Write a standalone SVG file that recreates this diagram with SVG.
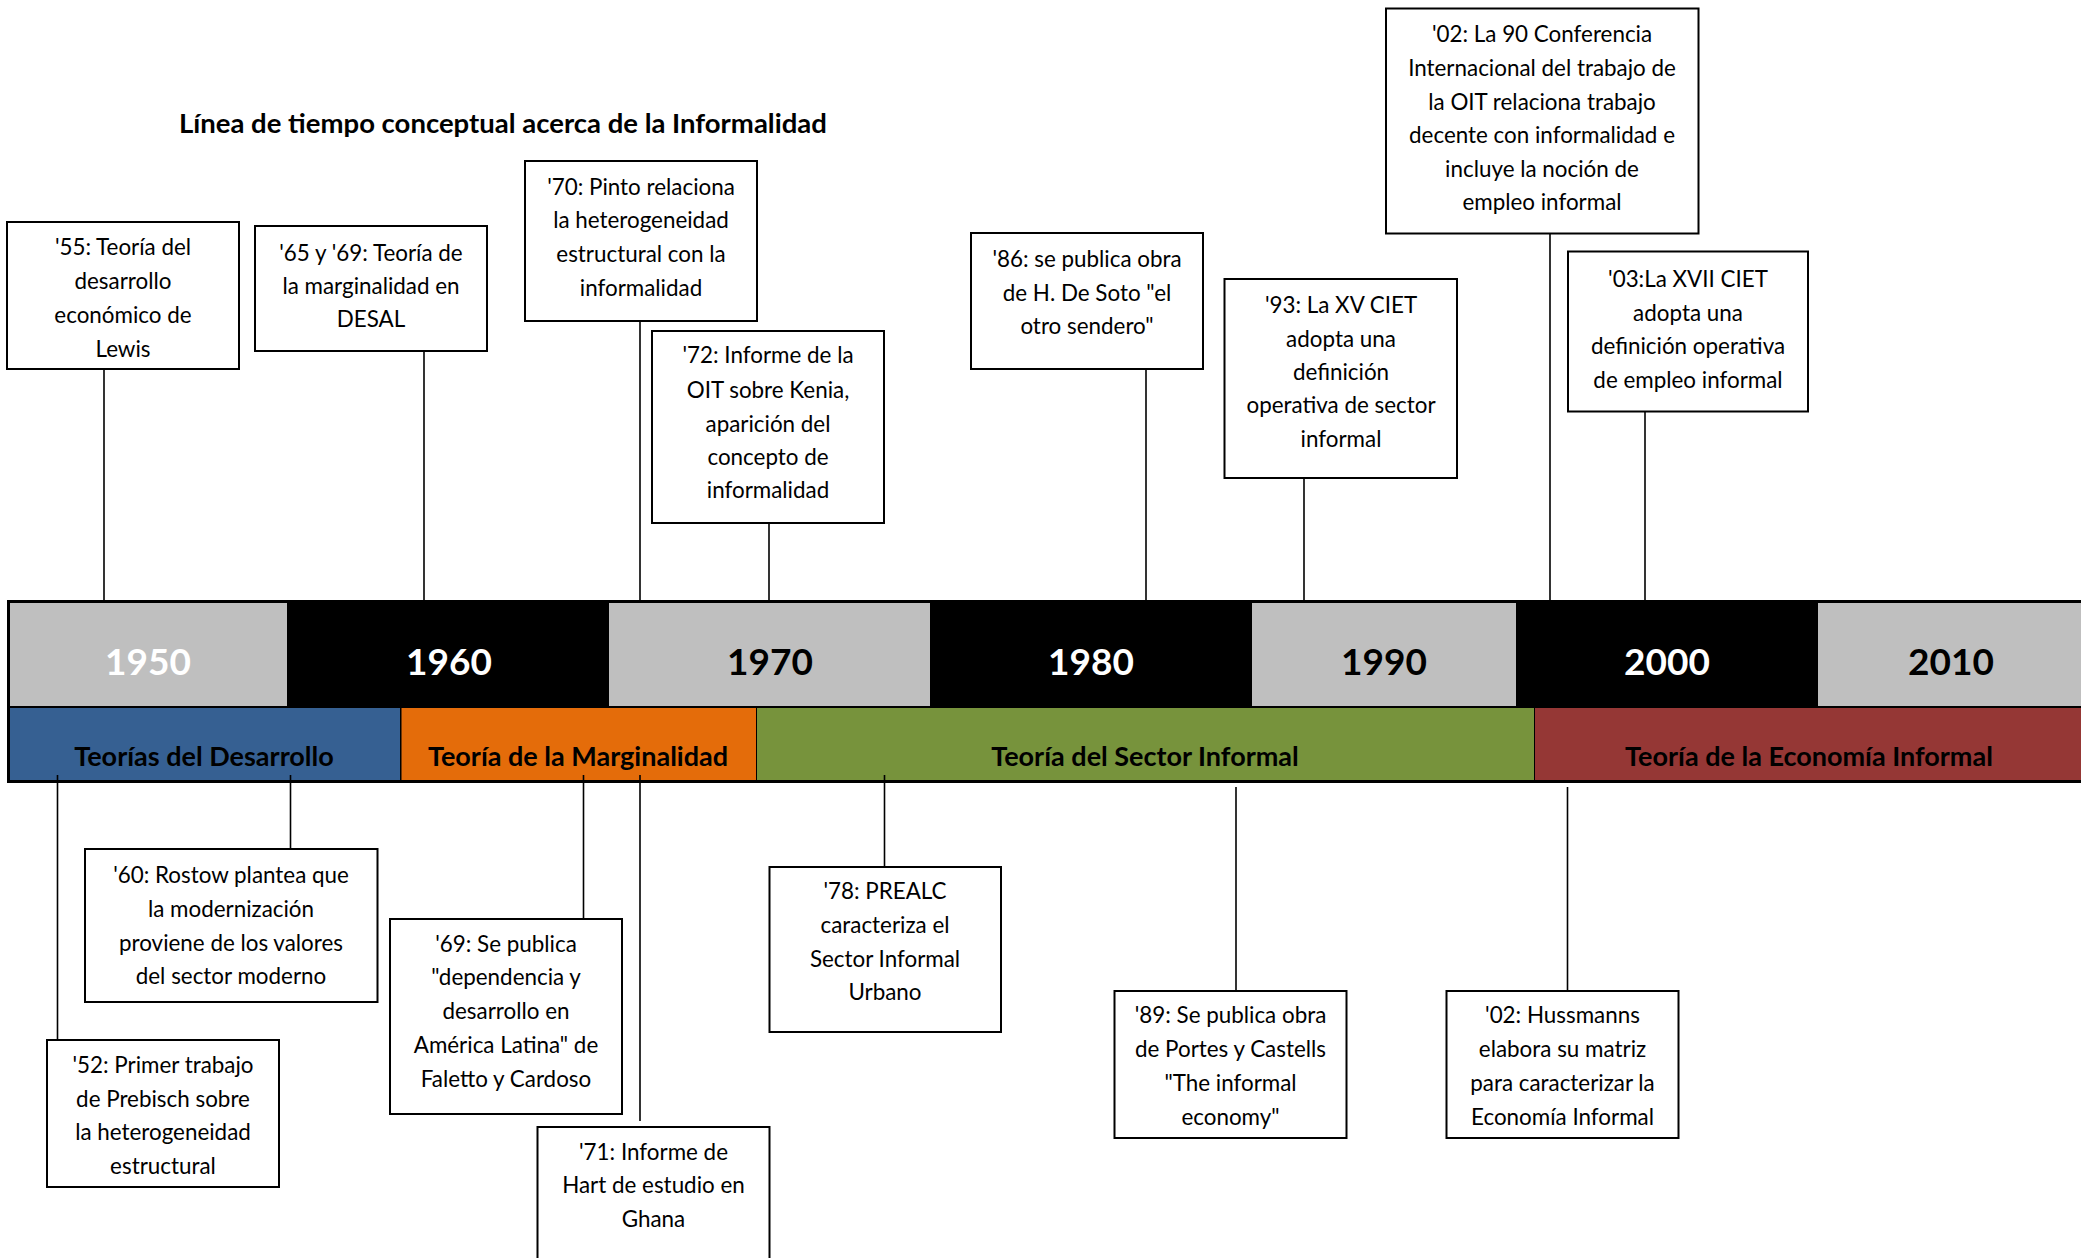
<svg xmlns="http://www.w3.org/2000/svg" width="2081" height="1258" viewBox="0 0 2081 1258">
<style>
text{font-family:Lato,"Liberation Sans",sans-serif;fill:#000}
.t{font-size:22.4px;text-anchor:middle}
.box{fill:#fff;stroke:#000;stroke-width:2}
.yr{font-size:37px;font-weight:bold;text-anchor:middle}
.th{font-size:27px;font-weight:bold;text-anchor:middle}
.w{fill:#fff}
.ln{stroke:#000;stroke-width:1.6;fill:none}
</style>
<rect width="2081" height="1258" fill="#fff"/>
<text id="title" x="179" y="133" style="font-size:27.5px;font-weight:bold">Línea de tiempo conceptual acerca de la Informalidad</text>

<g id="timeline">
<rect x="7" y="600" width="2080" height="183" fill="#000"/>
<rect x="10" y="603" width="277" height="103" fill="#BFBFBF"/>
<rect x="609" y="603" width="321" height="103" fill="#BFBFBF"/>
<rect x="1252" y="603" width="264" height="103" fill="#BFBFBF"/>
<rect x="1818" y="603" width="270" height="103" fill="#BFBFBF"/>
<text class="yr w" x="148" y="675">1950</text>
<text class="yr w" x="449" y="675">1960</text>
<text class="yr" x="770" y="675">1970</text>
<text class="yr w" x="1091" y="675">1980</text>
<text class="yr" x="1384" y="675">1990</text>
<text class="yr w" x="1667" y="675">2000</text>
<text class="yr" x="1951" y="675">2010</text>
<rect x="10" y="708" width="390" height="72" fill="#366092"/>
<rect x="401.5" y="708" width="354.5" height="72" fill="#E46C0A"/>
<rect x="757" y="708" width="777" height="72" fill="#77933C"/>
<rect x="1535" y="708" width="550" height="72" fill="#953735"/>
<text class="th" x="204" y="766">Teorías del Desarrollo</text>
<text class="th" x="578" y="766">Teoría de la Marginalidad</text>
<text class="th" x="1145" y="766">Teoría del Sector Informal</text>
<text class="th" x="1809" y="766">Teoría de la Economía Informal</text>
</g>

<g id="connectors">
<line class="ln" x1="104" y1="369" x2="104" y2="600"/>
<line class="ln" x1="424" y1="351" x2="424" y2="600"/>
<line class="ln" x1="640" y1="321" x2="640" y2="600"/>
<line class="ln" x1="769" y1="523" x2="769" y2="600"/>
<line class="ln" x1="1146" y1="369" x2="1146" y2="600"/>
<line class="ln" x1="1304" y1="478" x2="1304" y2="600"/>
<line class="ln" x1="1550" y1="233" x2="1550" y2="600"/>
<line class="ln" x1="1645" y1="411" x2="1645" y2="600"/>
<line class="ln" x1="57.5" y1="775" x2="57.5" y2="1040"/>
<line class="ln" x1="290.5" y1="775" x2="290.5" y2="849"/>
<line class="ln" x1="583.5" y1="775" x2="583.5" y2="919"/>
<line class="ln" x1="640" y1="775" x2="640" y2="1121"/>
<line class="ln" x1="884.5" y1="775" x2="884.5" y2="867"/>
<line class="ln" x1="1236" y1="787" x2="1236" y2="991"/>
<line class="ln" x1="1567.5" y1="787" x2="1567.5" y2="991"/>
</g>

<g id="n55">
<rect class="box" x="7" y="222" width="232" height="147"/>
<text class="t" x="123" y="255">'55: Teoría del</text>
<text class="t" x="123" y="289">desarrollo</text>
<text class="t" x="123" y="323">económico de</text>
<text class="t" x="123" y="357">Lewis</text>
</g>
<g id="n65">
<rect class="box" x="255" y="226" width="232" height="125"/>
<text class="t" x="371" y="261">'65 y '69: Teoría de</text>
<text class="t" x="371" y="294">la marginalidad en</text>
<text class="t" x="371" y="327">DESAL</text>
</g>
<g id="n70">
<rect class="box" x="525" y="161" width="232" height="160"/>
<text class="t" x="641" y="195">'70: Pinto relaciona</text>
<text class="t" x="641" y="228">la heterogeneidad</text>
<text class="t" x="641" y="262">estructural con la</text>
<text class="t" x="641" y="296">informalidad</text>
</g>
<g id="n72">
<rect class="box" x="652" y="331" width="232" height="192"/>
<text class="t" x="768" y="363">'72: Informe de la</text>
<text class="t" x="768" y="398">OIT sobre Kenia,</text>
<text class="t" x="768" y="432">aparición del</text>
<text class="t" x="768" y="465">concepto de</text>
<text class="t" x="768" y="498">informalidad</text>
</g>
<g id="n86">
<rect class="box" x="971" y="233" width="232" height="136"/>
<text class="t" x="1087" y="267">'86: se publica obra</text>
<text class="t" x="1087" y="301">de H. De Soto "el</text>
<text class="t" x="1087" y="334">otro sendero"</text>
</g>
<g id="n93">
<rect class="box" x="1224.5" y="279" width="232.5" height="199"/>
<text class="t" x="1341" y="313">'93: La XV CIET</text>
<text class="t" x="1341" y="347">adopta una</text>
<text class="t" x="1341" y="380">definición</text>
<text class="t" x="1341" y="413">operativa de sector</text>
<text class="t" x="1341" y="447">informal</text>
</g>
<g id="n02a">
<rect class="box" x="1386" y="8.5" width="312.5" height="225"/>
<text class="t" x="1542" y="42">'02: La 90 Conferencia</text>
<text class="t" x="1542" y="76">Internacional del trabajo de</text>
<text class="t" x="1542" y="110">la OIT relaciona trabajo</text>
<text class="t" x="1542" y="143">decente con informalidad e</text>
<text class="t" x="1542" y="177">incluye la noción de</text>
<text class="t" x="1542" y="210">empleo informal</text>
</g>
<g id="n03">
<rect class="box" x="1568" y="251.5" width="240" height="160"/>
<text class="t" x="1688" y="287">'03:La XVII CIET</text>
<text class="t" x="1688" y="321">adopta una</text>
<text class="t" x="1688" y="354">definición operativa</text>
<text class="t" x="1688" y="388">de empleo informal</text>
</g>
<g id="n60">
<rect class="box" x="85" y="849" width="292.5" height="153"/>
<text class="t" x="231" y="883">'60: Rostow plantea que</text>
<text class="t" x="231" y="917">la modernización</text>
<text class="t" x="231" y="951">proviene de los valores</text>
<text class="t" x="231" y="984">del sector moderno</text>
</g>
<g id="n52">
<rect class="box" x="47" y="1040" width="232" height="147"/>
<text class="t" x="163" y="1073">'52: Primer trabajo</text>
<text class="t" x="163" y="1107">de Prebisch sobre</text>
<text class="t" x="163" y="1140">la heterogeneidad</text>
<text class="t" x="163" y="1174">estructural</text>
</g>
<g id="n69">
<rect class="box" x="390" y="919" width="232" height="195"/>
<text class="t" x="506" y="952">'69: Se publica</text>
<text class="t" x="506" y="985">"dependencia y</text>
<text class="t" x="506" y="1019">desarrollo en</text>
<text class="t" x="506" y="1053">América Latina" de</text>
<text class="t" x="506" y="1087">Faletto y Cardoso</text>
</g>
<g id="n71">
<rect class="box" x="537.5" y="1127" width="232" height="160"/>
<text class="t" x="653.5" y="1160">'71: Informe de</text>
<text class="t" x="653.5" y="1193">Hart de estudio en</text>
<text class="t" x="653.5" y="1227">Ghana</text>
</g>
<g id="n78">
<rect class="box" x="769.5" y="867" width="231.5" height="165"/>
<text class="t" x="885" y="899">'78: PREALC</text>
<text class="t" x="885" y="933">caracteriza el</text>
<text class="t" x="885" y="967">Sector Informal</text>
<text class="t" x="885" y="1000">Urbano</text>
</g>
<g id="n89">
<rect class="box" x="1114.5" y="991" width="232" height="147"/>
<text class="t" x="1230.5" y="1023">'89: Se publica obra</text>
<text class="t" x="1230.5" y="1057">de Portes y Castells</text>
<text class="t" x="1230.5" y="1091">"The informal</text>
<text class="t" x="1230.5" y="1125">economy"</text>
</g>
<g id="n02b">
<rect class="box" x="1446.5" y="991" width="232" height="147"/>
<text class="t" x="1562.5" y="1023">'02: Hussmanns</text>
<text class="t" x="1562.5" y="1057">elabora su matriz</text>
<text class="t" x="1562.5" y="1091">para caracterizar la</text>
<text class="t" x="1562.5" y="1125">Economía Informal</text>
</g>
</svg>
